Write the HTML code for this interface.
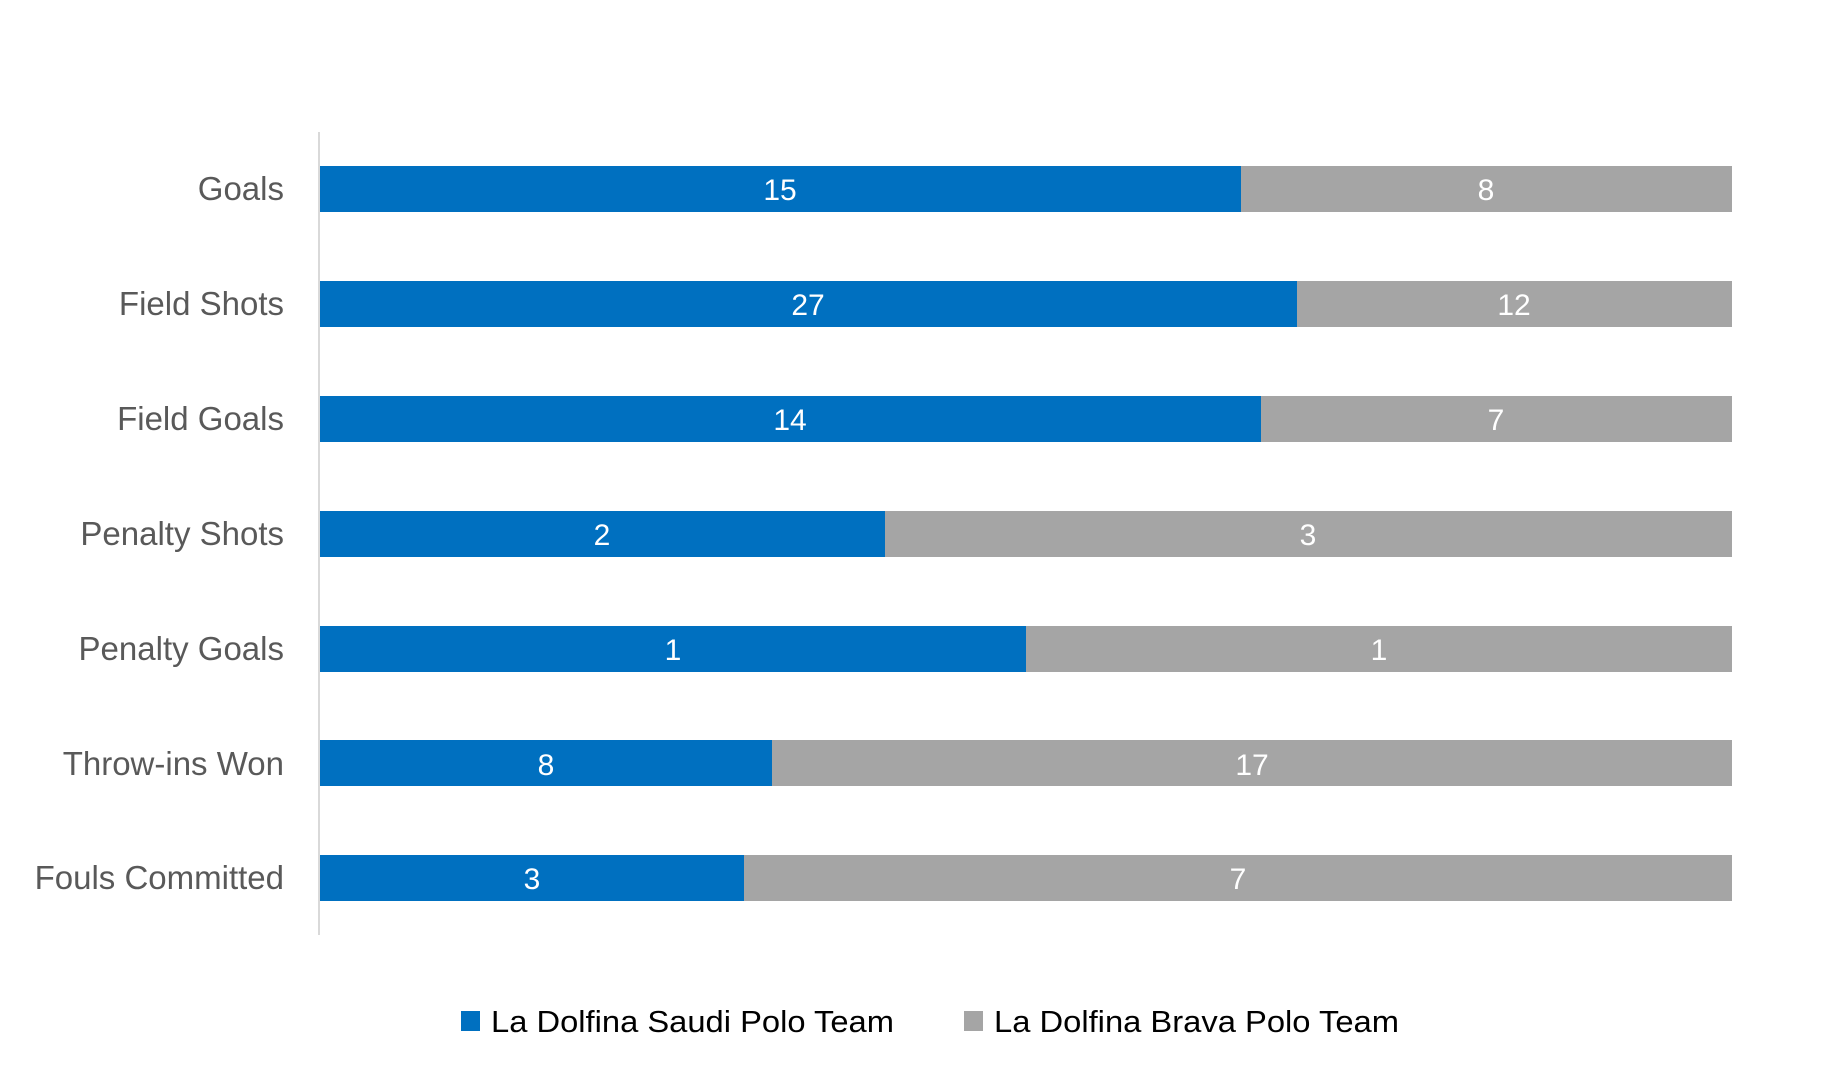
<!DOCTYPE html>
<html><head><meta charset="utf-8"><style>
html,body{margin:0;padding:0;background:#fff;}
svg{display:block;}
text{font-family:"Liberation Sans",sans-serif;}
</style></head><body>
<svg width="1844" height="1085" viewBox="0 0 1844 1085" xmlns="http://www.w3.org/2000/svg">
<rect width="1844" height="1085" fill="#fff"/>
<line x1="319" y1="132" x2="319" y2="935" stroke="#d9d9d9" stroke-width="2"/>
<g font-size="33" fill="#595959" text-anchor="end">
<text x="284" y="200">Goals</text>
<text x="284" y="315">Field Shots</text>
<text x="284" y="430">Field Goals</text>
<text x="284" y="545">Penalty Shots</text>
<text x="284" y="660">Penalty Goals</text>
<text x="284" y="775">Throw-ins Won</text>
<text x="284" y="889">Fouls Committed</text>
</g>
<g>
<rect x="320" y="166" width="921" height="46" fill="#0070C0"/><rect x="1241" y="166" width="491" height="46" fill="#A5A5A5"/>
<rect x="320" y="281" width="977" height="46" fill="#0070C0"/><rect x="1297" y="281" width="435" height="46" fill="#A5A5A5"/>
<rect x="320" y="396" width="941" height="46" fill="#0070C0"/><rect x="1261" y="396" width="471" height="46" fill="#A5A5A5"/>
<rect x="320" y="511" width="565" height="46" fill="#0070C0"/><rect x="885" y="511" width="847" height="46" fill="#A5A5A5"/>
<rect x="320" y="626" width="706" height="46" fill="#0070C0"/><rect x="1026" y="626" width="706" height="46" fill="#A5A5A5"/>
<rect x="320" y="740" width="452" height="46" fill="#0070C0"/><rect x="772" y="740" width="960" height="46" fill="#A5A5A5"/>
<rect x="320" y="855" width="424" height="46" fill="#0070C0"/><rect x="744" y="855" width="988" height="46" fill="#A5A5A5"/>
</g>
<g font-size="30" fill="#fff" text-anchor="middle">
<text x="780" y="200">15</text><text x="1486" y="200">8</text>
<text x="808" y="315">27</text><text x="1514" y="315">12</text>
<text x="790" y="430">14</text><text x="1496" y="430">7</text>
<text x="602" y="545">2</text><text x="1308" y="545">3</text>
<text x="673" y="660">1</text><text x="1379" y="660">1</text>
<text x="546" y="775">8</text><text x="1252" y="775">17</text>
<text x="532" y="889">3</text><text x="1238" y="889">7</text>
</g>
<rect x="461" y="1011" width="19" height="20" fill="#0070C0"/>
<text x="491" y="1032" font-size="31" fill="#000" textLength="403" lengthAdjust="spacingAndGlyphs">La Dolfina Saudi Polo Team</text>
<rect x="964" y="1011" width="19" height="20" fill="#A5A5A5"/>
<text x="994" y="1032" font-size="31" fill="#000" textLength="405" lengthAdjust="spacingAndGlyphs">La Dolfina Brava Polo Team</text>
</svg>
</body></html>
